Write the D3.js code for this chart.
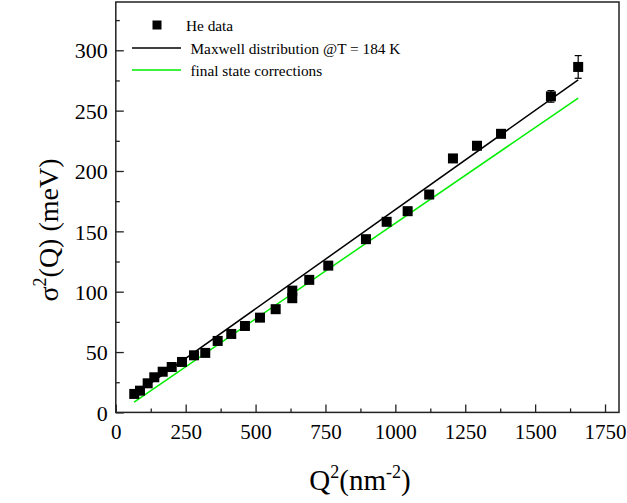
<!DOCTYPE html>
<html>
<head>
<meta charset="utf-8">
<script src="https://cdn.jsdelivr.net/npm/d3@7"></script>
<style>
html,body{margin:0;padding:0;background:#fff;}
svg{display:block;}
text{font-family:"Liberation Serif","Times New Roman",serif;fill:#000;}
</style>
</head>
<body>
<svg id="chart" width="627" height="503"></svg>
<script>
// Data
const q2 = [66, 86.5, 114, 137.7, 167.7, 200, 236.8, 279.7, 320, 364.4, 413, 462, 515.7, 571.9, 631.3, 631.3, 692, 760, 894.8, 968.9, 1044, 1121, 1206, 1292, 1378, 1556.5, 1654];
const sigma2 = [15.3, 18, 24.1, 29.1, 33.7, 37.6, 41.8, 47.3, 49.3, 59.2, 65, 71.6, 78.5, 85.5, 100.9, 94.6, 109.8, 121.6, 143.5, 157.9, 166.7, 180.5, 210.4, 220.9, 230.8, 261.8, 286.2];
const sigma2Err = [1.5, 1.5, 1.5, 1.5, 1.5, 1.5, 1.5, 1.5, 1.5, 1.5, 1.5, 1.5, 1.5, 1.5, 1.5, 1.5, 1.5, 1.5, 2, 2, 2, 2, 2, 2, 2, 4.8, 9.4];
const maxwellQ2 = [66, 1654];
const maxwellSigma2 = [14.5, 275.5];
const fscQ2 = [65.5, 1654];
const fscSigma2 = [8.6, 260.4];
const xTicks = [0, 250, 500, 750, 1000, 1250, 1500, 1750];
const yTicks = [0, 50, 100, 150, 200, 250, 300];
const legendLabels = ["He data", "Maxwell distribution @T = 184 K", "final state corrections"];

const svg = d3.select("#chart");
const L = 115.8, R = 619, T = 2, B = 412.4;
const x = d3.scaleLinear().domain([0, 1800]).range([L, R]);
const y = d3.scaleLinear().domain([0, 340]).range([B, T]);

// frame
svg.append("rect").attr("x", L).attr("y", T).attr("width", R - L).attr("height", B - T)
  .attr("fill", "none").attr("stroke", "#222").attr("stroke-width", 1.5);

// x axis ticks (inward)
const xMinor = d3.range(125, 1800, 250);
const gx = svg.append("g").attr("transform", `translate(0,${B})`);
gx.call(d3.axisBottom(x).tickValues(xTicks).tickSize(-8).tickFormat(d3.format("d")));
gx.append("g").call(d3.axisBottom(x).tickValues(xMinor).tickSize(-4).tickFormat(""));
gx.selectAll(".domain").remove();
gx.selectAll("line").attr("stroke", "#222").attr("stroke-width", 1.3);
gx.selectAll("text").attr("font-size", 21).attr("dy", null).attr("y", 27)
  .style("font-family", "'Liberation Serif', serif");

// y axis ticks (inward)
const yMinor = d3.range(25, 340, 50);
const gy = svg.append("g").attr("transform", `translate(${L},0)`);
gy.call(d3.axisLeft(y).tickValues(yTicks).tickSize(-8).tickFormat(d3.format("d")));
gy.append("g").call(d3.axisLeft(y).tickValues(yMinor).tickSize(-4).tickFormat(""));
gy.selectAll(".domain").remove();
gy.selectAll("line").attr("stroke", "#222").attr("stroke-width", 1.3);
gy.selectAll("text").attr("font-size", 22).attr("x", -8).attr("dy", "0.35em")
  .style("font-family", "'Liberation Serif', serif");

// lines
const line = d3.line().x(d => x(d[0])).y(d => y(d[1]));
svg.append("path").datum(maxwellQ2.map((v, i) => [v, maxwellSigma2[i]]))
  .attr("d", line).attr("fill", "none").attr("stroke", "#000").attr("stroke-width", 1.5);
svg.append("path").datum(fscQ2.map((v, i) => [v, fscSigma2[i]]))
  .attr("d", line).attr("fill", "none").attr("stroke", "#00ee00").attr("stroke-width", 1.5);

// error bars
const pts = q2.map((v, i) => ({x: v, y: sigma2[i], e: sigma2Err[i]}));
const eb = svg.append("g").attr("stroke", "#000").attr("stroke-width", 1.2);
pts.forEach(p => {
  eb.append("line").attr("x1", x(p.x)).attr("x2", x(p.x)).attr("y1", y(p.y - p.e)).attr("y2", y(p.y + p.e));
  [p.y - p.e, p.y + p.e].forEach(v => eb.append("line").attr("x1", x(p.x) - 3.5).attr("x2", x(p.x) + 3.5).attr("y1", y(v)).attr("y2", y(v)));
});

// squares
const s = 10;
svg.append("g").selectAll("rect").data(pts).join("rect")
  .attr("x", d => x(d.x) - s / 2).attr("y", d => y(d.y) - s / 2)
  .attr("width", s).attr("height", s).attr("fill", "#000");

// legend
const lg = svg.append("g");
lg.append("rect").attr("x", 152.5).attr("y", 20.5).attr("width", 9).attr("height", 9).attr("fill", "#000");
lg.append("text").attr("x", 186).attr("y", 31).attr("font-size", 15.3).text(legendLabels[0]);
lg.append("line").attr("x1", 132).attr("x2", 181).attr("y1", 48).attr("y2", 48).attr("stroke", "#000").attr("stroke-width", 1.5);
lg.append("text").attr("x", 190.5).attr("y", 53.5).attr("font-size", 15.3).text(legendLabels[1]);
lg.append("line").attr("x1", 132).attr("x2", 181).attr("y1", 70).attr("y2", 70).attr("stroke", "#00ee00").attr("stroke-width", 1.5);
lg.append("text").attr("x", 190.5).attr("y", 75.5).attr("font-size", 15.3).text(legendLabels[2]);

// axis titles
const xt = svg.append("text").attr("x", 360).attr("y", 490).attr("text-anchor", "middle").attr("font-size", 29);
xt.append("tspan").text("Q");
xt.append("tspan").attr("font-size", 18).attr("dy", -12).text("2");
xt.append("tspan").attr("dy", 12).text("(nm");
xt.append("tspan").attr("font-size", 18).attr("dy", -12).text("-2");
xt.append("tspan").attr("dy", 12).text(")");

const yt = svg.append("text").attr("transform", "translate(58,230) rotate(-90)").attr("text-anchor", "middle").attr("font-size", 28);
yt.append("tspan").text("σ");
yt.append("tspan").attr("font-size", 18).attr("dy", -12).text("2");
yt.append("tspan").attr("dy", 12).text("(Q) (meV)");
</script>
</body>
</html>
